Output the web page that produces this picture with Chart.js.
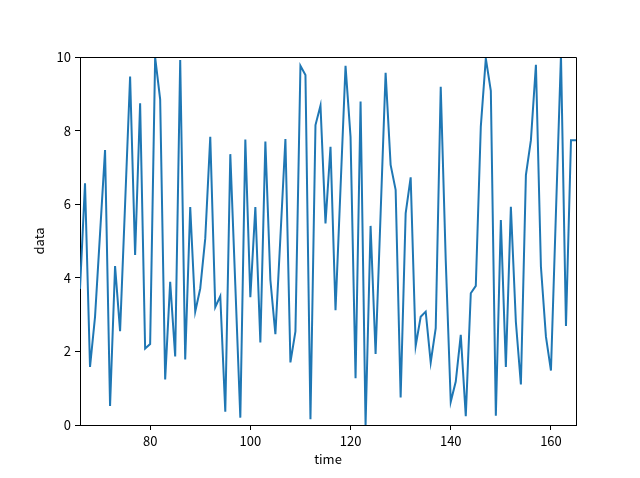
<!DOCTYPE html>
<html>
<head>
<meta charset="utf-8">
<script src="https://cdn.jsdelivr.net/npm/chart.js@4/dist/chart.umd.min.js"></script>
<style>
  html, body { margin: 0; padding: 0; background: #fff; }
  #wrap { width: 640px; height: 478px; }
</style>
</head>
<body>
<div id="wrap"><canvas id="chart"></canvas></div>
<script>
// time steps 66..165 and the sampled values
const times = [
    66, 67, 68, 69, 70, 71, 72, 73, 74, 75, 76, 77, 78, 79, 80, 81, 82, 83, 84, 85,
    86, 87, 88, 89, 90, 91, 92, 93, 94, 95, 96, 97, 98, 99, 100, 101, 102, 103, 104, 105,
    106, 107, 108, 109, 110, 111, 112, 113, 114, 115, 116, 117, 118, 119, 120, 121, 122, 123, 124, 125,
    126, 127, 128, 129, 130, 131, 132, 133, 134, 135, 136, 137, 138, 139, 140, 141, 142, 143, 144, 145,
    146, 147, 148, 149, 150, 151, 152, 153, 154, 155, 156, 157, 158, 159, 160, 161, 162, 163, 164, 165
];
const values = [
    3.7, 6.57, 1.58, 2.94, 5.2, 7.47, 0.52, 4.32, 2.55, 6.0, 9.47, 4.62, 8.74, 2.08, 2.2, 9.99, 8.85, 1.24, 3.89, 1.86,
    9.92, 1.78, 5.92, 3.08, 3.71, 5.07, 7.83, 3.2, 3.5, 0.36, 7.36, 3.8, 0.2, 7.76, 3.47, 5.92, 2.24, 7.7, 3.94, 2.47,
    5.1, 7.77, 1.7, 2.54, 9.76, 9.51, 0.16, 8.15, 8.68, 5.48, 7.56, 3.12, 6.44, 9.76, 7.83, 1.27, 8.79, 0.0, 5.41, 1.93,
    5.74, 9.57, 7.07, 6.39, 0.75, 5.75, 6.73, 2.15, 2.94, 3.08, 1.7, 2.63, 9.19, 4.48, 0.63, 1.18, 2.45, 0.24, 3.58, 3.78,
    8.11, 9.96, 9.08, 0.25, 5.57, 1.58, 5.93, 2.8, 1.1, 6.79, 7.74, 9.79, 4.3, 2.4, 1.48, 5.79, 10.05, 2.69, 7.74, 7.74
];
const xTicks = [80, 100, 120, 140, 160];
const yTicks = [0, 2, 4, 6, 8, 10];

const font = { family: "'Noto Sans CJK JP', 'DejaVu Sans', sans-serif", size: 13 };

// draws the top and right spines like matplotlib
const frame = {
    id: 'frame',
    afterDraw(chart) {
        const a = chart.chartArea;
        const ctx = chart.ctx;
        ctx.save();
        ctx.strokeStyle = '#000';
        ctx.lineWidth = 1;
        ctx.beginPath();
        ctx.moveTo(a.left, a.top + 0.5);
        ctx.lineTo(a.right + 0.5, a.top + 0.5);
        ctx.lineTo(a.right + 0.5, a.bottom);
        ctx.stroke();
        ctx.restore();
    }
};

new Chart(document.getElementById('chart').getContext('2d'), {
    type: 'line',
    data: {
        datasets: [{
            data: times.map((t, i) => ({ x: t, y: values[i] })),
            borderColor: '#1f77b4',
            borderWidth: 2,
            pointRadius: 0,
            tension: 0,
            fill: false
        }]
    },
    options: {
        responsive: true,
        maintainAspectRatio: false,
        animation: false,
        devicePixelRatio: 1,
        layout: { padding: { top: 57, right: 64, left: 27, bottom: 0 } },
        plugins: {
            legend: { display: false },
            tooltip: { enabled: false }
        },
        scales: {
            x: {
                type: 'linear',
                min: 66,
                max: 165,
                afterBuildTicks: (s) => { s.ticks = xTicks.map(v => ({ value: v })); },
                afterFit: (s) => { s.height = 53; },
                grid: { drawOnChartArea: false, drawTicks: true, tickLength: 5, tickColor: '#000' },
                border: { color: '#000', width: 1 },
                ticks: { color: '#000', font: font, padding: 3, maxRotation: 0 },
                title: { display: true, text: 'time', color: '#000', font: font, padding: { top: 0, bottom: 11 } }
            },
            y: {
                min: 0,
                max: 10,
                afterBuildTicks: (s) => { s.ticks = yTicks.map(v => ({ value: v })); },
                afterFit: (s) => { s.width = 53; },
                grid: { drawOnChartArea: false, drawTicks: true, tickLength: 5, tickColor: '#000' },
                border: { color: '#000', width: 1 },
                ticks: { color: '#000', font: font, padding: 4 },
                title: { display: true, text: 'data', color: '#000', font: font, padding: { top: 4, bottom: 4 } }
            }
        }
    },
    plugins: [frame]
});
</script>
</body>
</html>
